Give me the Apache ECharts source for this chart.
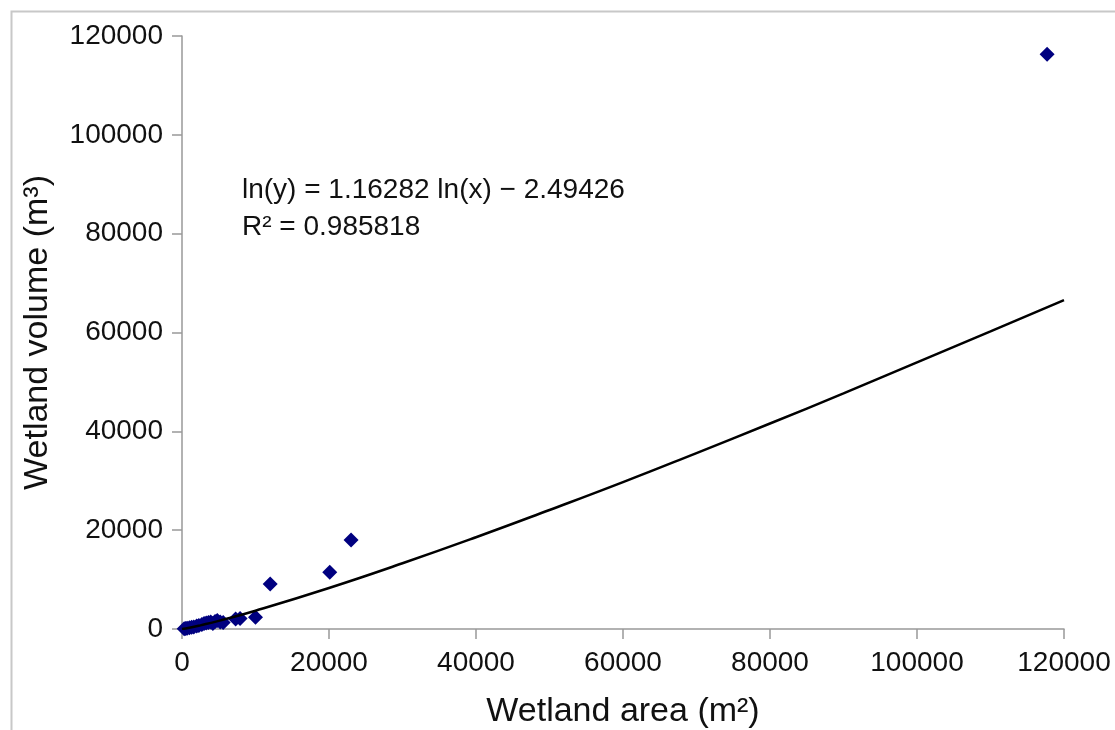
<!DOCTYPE html>
<html>
<head>
<meta charset="utf-8">
<script src="https://cdn.jsdelivr.net/npm/echarts@6/dist/echarts.min.js"></script>
<style>
html,body{margin:0;padding:0;background:#fff;}
#chart{width:1115px;height:730px;}
</style>
</head>
<body>
<div id="chart"></div>
<script>
// Observed wetlands: area (m²) and volume (m³)
const areaValues   = [300, 500, 700, 1000, 1300, 1600, 2000, 2300, 2700, 3000, 3300, 3600, 3900, 4200, 4500, 4800, 5200, 5600, 7300, 7900, 10000, 12000, 20100, 23000, 117700];
const volumeValues = [60, 100, 150, 250, 350, 400, 600, 700, 900, 1100, 1200, 1300, 1400, 1100, 1500, 1700, 1400, 1300, 2000, 2100, 2400, 9100, 11500, 18000, 116300];
// Power trend line
const trendX = [0, 1000, 2500, 5000, 10000, 20000, 30000, 40000, 50000, 60000, 70000, 80000, 90000, 100000, 110000, 120000];
const trendY = [0, 250, 740, 1650, 3700, 8300, 13300, 18570, 24080, 29720, 35600, 41580, 47690, 53950, 60220, 66540];
const xTicks = [0, 20000, 40000, 60000, 80000, 100000, 120000];
const yTicks = [0, 20000, 40000, 60000, 80000, 100000, 120000];
const equationLines = ['ln(y) = 1.16282 ln(x) \u2212 2.49426', 'R\u00b2 = 0.985818'];

const points = areaValues.map((a, i) => [a, volumeValues[i]]);
const trend = trendX.map((x, i) => [x, trendY[i]]);

const chart = echarts.init(document.getElementById('chart'));
const font = 'Liberation Sans, Arial, sans-serif';
const plain = v => String(v);
chart.setOption({
  animation: false,
  backgroundColor: '#fff',
  grid: {left: 182, right: 51, top: 36, bottom: 101, containLabel: false, outerBoundsMode: 'none'},
  xAxis: {
    type: 'value', min: xTicks[0], max: xTicks[xTicks.length - 1], interval: 20000,
    name: 'Wetland area (m\u00b2)', nameLocation: 'middle', nameGap: 66,
    nameTextStyle: {fontFamily: font, fontSize: 34, color: '#111'},
    axisLine: {show: true, onZero: false, lineStyle: {color: '#999', width: 1.5}},
    axisTick: {show: true, inside: false, length: 10, lineStyle: {color: '#999', width: 1.5}},
    axisLabel: {fontFamily: font, fontSize: 28, color: '#111', margin: 20, formatter: plain},
    splitLine: {show: false}
  },
  yAxis: {
    type: 'value', min: yTicks[0], max: yTicks[yTicks.length - 1], interval: 20000,
    name: 'Wetland volume (m\u00b3)', nameLocation: 'middle', nameGap: 127,
    nameTextStyle: {fontFamily: font, fontSize: 34, color: '#111'},
    axisLine: {show: true, onZero: false, lineStyle: {color: '#999', width: 1.5}},
    axisTick: {show: true, inside: false, length: 10, lineStyle: {color: '#999', width: 1.5}},
    axisLabel: {fontFamily: font, fontSize: 28, color: '#111', margin: 19, formatter: plain},
    splitLine: {show: false}
  },
  graphic: [
    {type: 'rect', left: 9, top: 9, z: -1, silent: true,
     shape: {width: 1300, height: 900},
     style: {fill: 'none', stroke: '#c8c8c8', lineWidth: 2}},
    {type: 'text', left: 242, top: 172, silent: true,
     style: {text: equationLines.join('\n'), fontFamily: font, fontSize: 28, lineHeight: 37, fill: '#111'}}
  ],
  series: [
    {
      type: 'line', data: trend, smooth: true, showSymbol: false, symbol: 'none',
      lineStyle: {color: '#000', width: 2.5}, z: 3
    },
    {
      type: 'scatter', data: points, symbol: 'diamond', symbolSize: 15,
      itemStyle: {color: '#000080', opacity: 1}, z: 2
    }
  ]
});
</script>
</body>
</html>
